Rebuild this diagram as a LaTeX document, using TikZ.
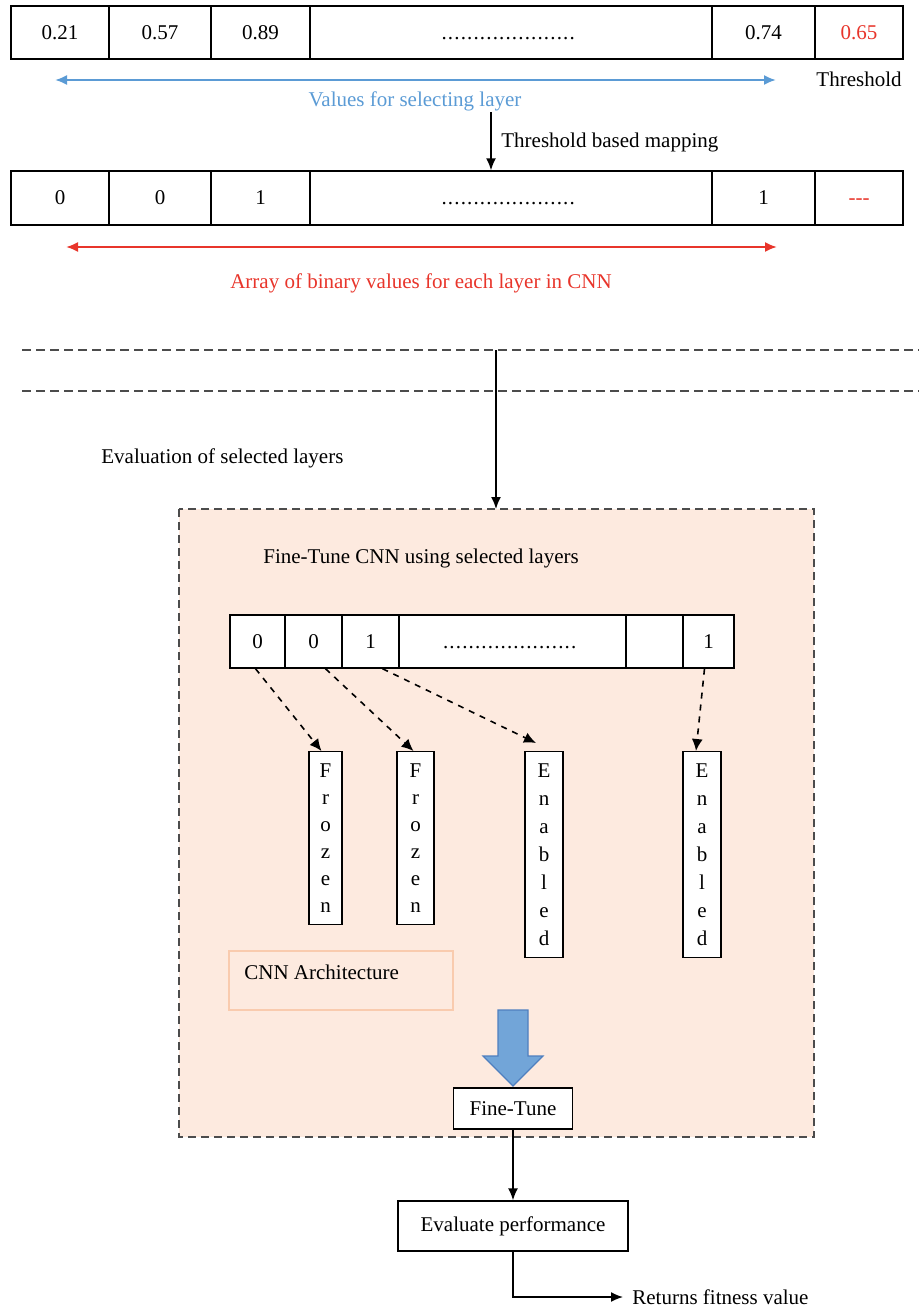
\documentclass[tikz,border=0pt]{standalone}
\usepackage{fontspec}
\setmainfont{Liberation Serif}
\usetikzlibrary{arrows.meta}
\definecolor{selblue}{HTML}{5B9BD5}
\definecolor{binred}{HTML}{E8352B}
\definecolor{peach}{HTML}{FDEADF}
\definecolor{archline}{HTML}{F9CBAE}
\definecolor{bigfill}{HTML}{72A5D8}
\definecolor{bigline}{HTML}{4F7FBF}
\newcommand{\dotrow}{\vphantom{0}\makebox[70pt]{\leaders\hbox to 3.2pt{\hss.\hss}\hfill}}
\tikzset{
  cell/.style={draw, line width=0.7pt, fill=white, minimum height=26.5pt, inner sep=0pt},
  note/.style={anchor=west, inner sep=0pt},
  letters/.style={draw, line width=0.7pt, fill=white, anchor=north, align=center,
    inner xsep=0pt, inner ysep=6pt, font=\fontsize{10.5}{13.5}\selectfont},
  flow/.style={-{Latex[length=6pt,width=5pt]}, line width=0.8pt},
  map/.style={-{Latex[length=6pt,width=5.5pt]}, dashed, line width=0.8pt},
  span/.style={{Latex[length=6pt,width=5pt]}-{Latex[length=6pt,width=5pt]}, line width=1pt},
}
\begin{document}
\begin{tikzpicture}[x=0.5pt,y=-0.5pt,font=\fontsize{10.5}{12.6}\selectfont]
\useasboundingbox (0,0) rectangle (919,1307);
% layer values and threshold
\node[cell,minimum width=49pt] (t1) at (60,32.5) {0.21};
\node[cell,minimum width=51pt] (t2) at (160,32.5) {0.57};
\node[cell,minimum width=49.5pt] (t3) at (260.5,32.5) {0.89};
\node[cell,minimum width=201pt] (t4) at (511,32.5) {\dotrow};
\node[cell,minimum width=51.5pt] (t5) at (763.5,32.5) {0.74};
\node[cell,minimum width=44pt,text=binred] (t6) at (859,32.5) {0.65};
\node (thr) at (859,79) {Threshold};
\coordinate (vl) at (55,80);
\coordinate (vr) at (776,80);
\draw[span,selblue] (vl) -- (vr);
\node[text=selblue] (vlab) at (415,101) {Values for selecting layer};
% mapping to binary array
\node[cell,minimum width=49pt,minimum height=27pt] (b1) at (60,198) {0};
\node[cell,minimum width=51pt,minimum height=27pt] (b2) at (160,198) {0};
\node[cell,minimum width=49.5pt,minimum height=27pt] (b3) at (260.5,198) {1};
\node[cell,minimum width=201pt,minimum height=27pt] (b4) at (511,198) {\dotrow};
\node[cell,minimum width=51.5pt,minimum height=27pt] (b5) at (763.5,198) {1};
\node[cell,minimum width=44pt,minimum height=27pt,text=binred] (b6) at (859,198) {\vphantom{0}-{}-{}-};
\coordinate (m0) at (491,112);
\draw[flow] (m0) -- (m0 |- b4.north);
\node[note] (tbm) at (501,142) {Threshold based mapping};
\coordinate (rl) at (66,247);
\coordinate (rr) at (777,247);
\draw[span,binred] (rl) -- (rr);
\node[text=binred] (blab) at (421,283) {Array of binary values for each layer in CNN};
% separator
\draw[black!70,line width=0.7pt,dash pattern=on 4.5pt off 2.5pt] (22,350) -- (919,350);
\draw[black!70,line width=0.7pt,dash pattern=on 4.5pt off 2.5pt] (22,391) -- (919,391);
\node[note] (evl) at (101,458) {Evaluation of selected layers};
\coordinate (d0) at (496,350);
\coordinate (d1) at (496,509);
\draw[flow] (d0) -- (d1);
% fine-tuning block
\draw[fill=peach,draw=black!70,line width=0.8pt,dash pattern=on 4pt off 2.5pt] (179,509) rectangle (814,1137);
\node[note] (ftl) at (263,558) {Fine-Tune CNN using selected layers};
\node[cell,minimum width=27.5pt] (s1) at (257.5,641.5) {0};
\node[cell,minimum width=28.5pt] (s2) at (313.5,641.5) {0};
\node[cell,minimum width=28.5pt] (s3) at (370.5,641.5) {1};
\node[cell,minimum width=113.5pt] (s4) at (512.5,641.5) {\dotrow};
\node[cell,minimum width=28.5pt] (s5) at (654.5,641.5) {};
\node[cell,minimum width=25.5pt] (s6) at (708.5,641.5) {1};
\node[letters,minimum width=16.5pt] (fz1) at (325.5,751) {F\\r\\o\\z\\e\\n};
\node[letters,minimum width=18.5pt] (fz2) at (415.5,751) {F\\r\\o\\z\\e\\n};
\node[letters,minimum width=19pt,font=\fontsize{10.5}{14}\selectfont] (en1) at (544,751) {E\\n\\a\\b\\l\\e\\d};
\node[letters,minimum width=19pt,font=\fontsize{10.5}{14}\selectfont] (en2) at (702,751) {E\\n\\a\\b\\l\\e\\d};
\draw[map] ([xshift=-1pt]s1.south) -- ([xshift=-2pt]fz1.north);
\draw[map] ([xshift=6pt]s2.south) -- ([xshift=-1pt]fz2.north);
\draw[map] ([xshift=6pt]s3.south) -- ([xshift=-4pt,yshift=4pt]en1.north);
\draw[map] ([xshift=-2pt]s6.south) -- ([xshift=-3pt]en2.north);
\draw[archline,line width=0.8pt] (229,951) rectangle (453,1010);
\node[note] (archl) at (244,972) {CNN Architecture};
\draw[fill=bigfill,draw=bigline,line width=0.6pt] (498,1010) -- (528,1010) -- (528,1056) -- (543,1056)
  -- (513,1086) -- (483,1056) -- (498,1056) -- cycle;
\node[cell,minimum width=59.5pt,minimum height=20.5pt] (ft) at (513,1108.5) {Fine-Tune};
% evaluation
\node[cell,minimum width=115pt,minimum height=25pt] (ev) at (513,1226) {Evaluate performance};
\draw[flow] (ft) -- (ev);
\coordinate (rt) at (623,1297);
\draw[flow] (ev.south) |- (rt);
\node[note] (ret) at (632,1297) {Returns fitness value};
\end{tikzpicture}
\end{document}
